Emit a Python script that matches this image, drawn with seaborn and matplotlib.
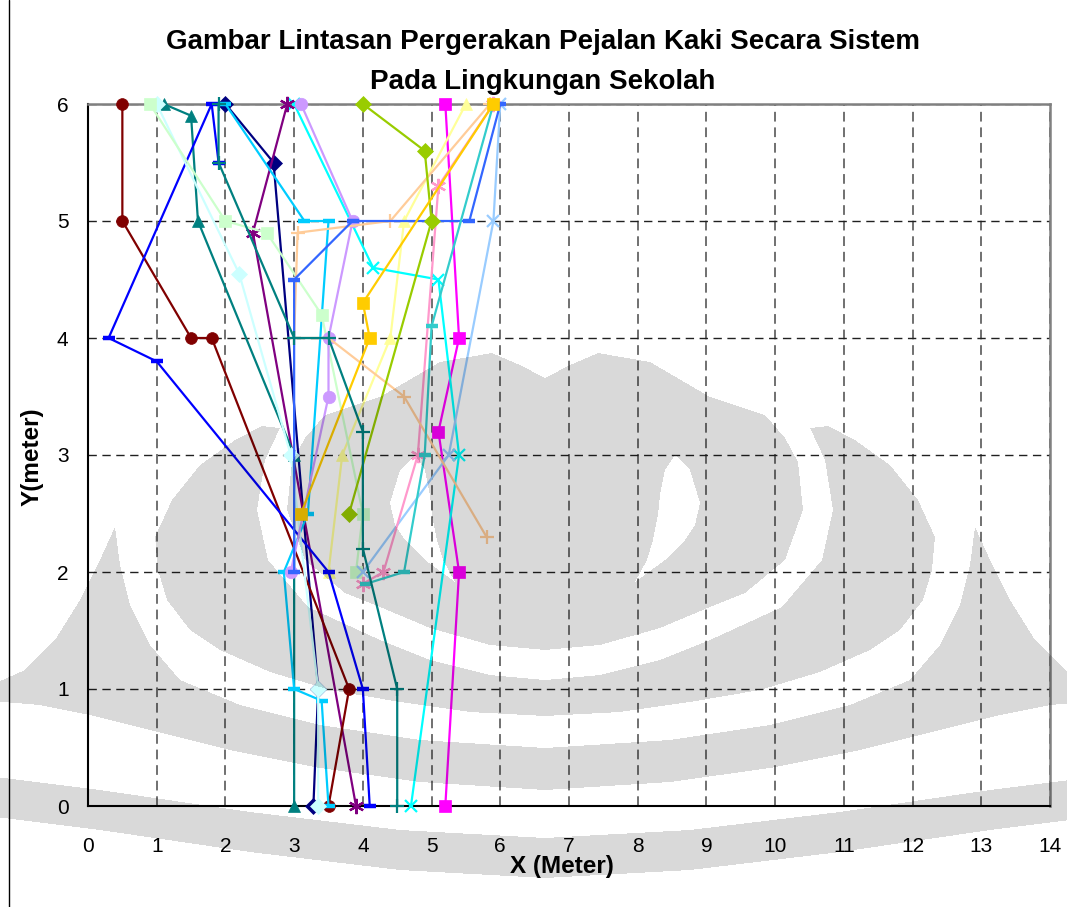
import matplotlib
matplotlib.use("Agg")
import matplotlib.pyplot as plt
from matplotlib.path import Path
from matplotlib.lines import Line2D
import numpy as np
import seaborn as sns
import pandas as pd

sns.set_theme(style="white")
plt.rcParams['font.family'] = ['Liberation Sans', 'DejaVu Sans']
plt.rcParams['text.color'] = 'black'
plt.rcParams['xtick.color'] = 'black'
plt.rcParams['ytick.color'] = 'black'

# Pedestrian paths (x, y in metres), one pair of lists per walker
navy_x = [2.0, 2.7, 3.35, 3.28]
navy_y = [6.0, 5.5, 1.0, 0.0]
magenta_x = [5.2, 5.4, 5.1, 5.4, 5.2]
magenta_y = [6.0, 4.0, 3.2, 2.0, 0.0]
lightyellow_x = [5.5, 4.6, 4.4, 3.7, 3.5]
lightyellow_y = [6.0, 5.0, 4.0, 3.0, 2.0]
cyan_x = [3.0, 4.15, 5.1, 5.4, 4.7]
cyan_y = [6.0, 4.6, 4.5, 3.0, 0.0]
purple_x = [2.9, 2.4, 3.9]
purple_y = [6.0, 4.9, 0.0]
darkred_x = [0.5, 0.5, 1.5, 1.8, 3.8, 3.5]
darkred_y = [6.0, 5.0, 4.0, 4.0, 1.0, 0.0]
teal_tri_x = [1.1, 1.5, 1.6, 3.0, 3.0]
teal_tri_y = [6.0, 5.9, 5.0, 3.0, 0.0]
blue_x = [1.9, 1.8, 0.3, 1.0, 3.5, 4.0, 4.1]
blue_y = [5.5, 6.0, 4.0, 3.8, 2.0, 1.0, 0.0]
skyblue_x = [2.0, 3.15, 3.5, 3.2, 2.85, 3.0, 3.4, 3.5]
skyblue_y = [6.0, 5.0, 5.0, 2.5, 2.0, 1.0, 0.9, 0.0]
paleturq_x = [1.0, 2.2, 2.95, 3.35, 3.35]
paleturq_y = [6.0, 4.55, 3.0, 1.0, 0.0]
lightgreen_x = [0.9, 2.0, 2.6, 3.4, 4.0, 3.9]
lightgreen_y = [6.0, 5.0, 4.9, 4.2, 2.5, 2.0]
paleblue_x = [6.0, 5.9, 5.25, 4.0]
paleblue_y = [6.0, 5.0, 3.0, 2.0]
rose_x = [5.9, 5.1, 4.8, 4.3, 4.0]
rose_y = [6.0, 5.3, 3.0, 2.0, 1.9]
lavender_x = [3.1, 3.85, 3.5, 3.5, 2.95]
lavender_y = [6.0, 5.0, 4.0, 3.5, 2.0]
tan_x = [5.85, 4.4, 3.05, 3.0, 3.5, 4.6, 5.8]
tan_y = [6.0, 5.0, 4.9, 4.0, 4.0, 3.5, 2.3]
royal_x = [6.0, 5.55, 3.85, 3.0, 3.0]
royal_y = [6.0, 5.0, 5.0, 4.5, 2.0]
aqua_x = [5.9, 5.0, 4.9, 4.6, 4.05]
aqua_y = [6.0, 4.1, 3.0, 2.0, 1.9]
lime_x = [4.0, 4.9, 5.0, 3.8]
lime_y = [6.0, 5.6, 5.0, 2.5]
gold_x = [5.9, 4.0, 4.1, 3.1]
gold_y = [6.0, 4.3, 4.0, 2.5]
teal_plus_x = [1.9, 1.9, 3.0, 3.5, 4.0, 4.0, 4.5, 4.5]
teal_plus_y = [6.0, 5.5, 4.0, 4.0, 3.2, 2.2, 1.0, 0.0]

x_ticks = list(range(0, 15))
y_ticks = list(range(0, 7))

title_lines = ["Gambar Lintasan Pergerakan Pejalan Kaki Secara Sistem",
               "Pada Lingkungan Sekolah"]

series = [
    (navy_x, navy_y, "#000080", "D", 8),
    (magenta_x, magenta_y, "#FF00FF", "s", 8),
    (lightyellow_x, lightyellow_y, "#FFFF99", "^", 9),
    (cyan_x, cyan_y, "#00FFFF", "x", 9),
    (purple_x, purple_y, "#800080", (6, 2, 0), 11),
    (darkred_x, darkred_y, "#800000", "o", 8.5),
    (teal_tri_x, teal_tri_y, "#008080", "^", 9),
    (blue_x, blue_y, "#0000FF", "_", 8),
    (skyblue_x, skyblue_y, "#00CCFF", "_", 8),
    (paleturq_x, paleturq_y, "#CCFFFF", "D", 8),
    (lightgreen_x, lightgreen_y, "#CCFFCC", "s", 9),
    (paleblue_x, paleblue_y, "#99CCFF", "x", 9),
    (rose_x, rose_y, "#FF99CC", (6, 2, 0), 11),
    (lavender_x, lavender_y, "#CC99FF", "o", 9),
    (tan_x, tan_y, "#FFCC99", "+", 10),
    (royal_x, royal_y, "#3366FF", "_", 8),
    (aqua_x, aqua_y, "#33CCCC", "_", 8),
    (lime_x, lime_y, "#99CC00", "D", 8),
    (gold_x, gold_y, "#FFCC00", "s", 9),
    (teal_plus_x, teal_plus_y, "#008080", "+", 10),
]

W, H = 1067, 907
fig = plt.figure(figsize=(W / 100, H / 100), dpi=100)
ax = fig.add_axes([88 / W, 1 - 806 / H, 962 / W, 702 / H])

for xs, ys, color, marker, ms in series:
    df = pd.DataFrame({"x": xs, "y": ys})
    unfilled = marker in ("x", "+", "_") or isinstance(marker, tuple)
    mew = 3.2 if marker == "_" else (1.6 if unfilled else 0.5)
    sns.lineplot(data=df, x="x", y="y", sort=False, estimator=None, ax=ax,
                 color=color, linewidth=1.6, marker=marker, markersize=ms,
                 markeredgecolor=color, markeredgewidth=mew,
                 markerfacecolor=color, clip_on=False, zorder=3)

ax.set_xlim(0, 14)
ax.set_ylim(0, 6)
ax.set_xticks(x_ticks)
ax.set_yticks(y_ticks)
ax.set_xticklabels([str(t) for t in x_ticks], fontsize=15)
ax.set_yticklabels([str(t) for t in y_ticks], fontsize=15)
ax.tick_params(axis="both", direction="out", length=6, width=1.2,
               color="black")
ax.tick_params(axis="x", pad=16)
ax.tick_params(axis="y", pad=8)
ax.xaxis.grid(True, color="#707070", linestyle=(0, (5, 3)), linewidth=1.4)
ax.yaxis.grid(True, color="#202020", linestyle=(0, (6, 4)), linewidth=1.0)
ax.set_axisbelow(True)
for side in ("left", "bottom"):
    ax.spines[side].set_color("black")
    ax.spines[side].set_linewidth(1.5)
for side in ("top", "right"):
    ax.spines[side].set_color("#808080")
    ax.spines[side].set_linewidth(1.8)
ax.set_xlabel("")
ax.set_ylabel("")

fig.text(543 / W, 1 - 42 / H, title_lines[0], ha="center", va="center",
         fontsize=20, fontweight="bold")
fig.text(543 / W, 1 - 82 / H, title_lines[1], ha="center", va="center",
         fontsize=20, fontweight="bold")
fig.text(562 / W, 1 - 866 / H, "X (Meter)", ha="center", va="center",
         fontsize=17.5, fontweight="bold")
fig.text(32 / W, 1 - 457 / H, "Y(meter)", ha="center", va="center",
         fontsize=17.5, fontweight="bold", rotation=90)

# chart-area border on the left edge
fig.add_artist(Line2D([8.5 / W, 8.5 / W], [0, 1], color="black",
                      linewidth=1.0, transform=fig.transFigure))

# --- faint emblem printed over the page (symmetric about a vertical axis) ---
CX = 545


def mirror(pts):
    return [(2 * CX - x, y) for x, y in pts]


def u_band(outer, inner):
    return (outer + mirror(outer)[::-1][1:] + mirror(inner)
            + inner[::-1][1:])


head_left = [(545, 378), (520, 365), (492, 353), (440, 362), (380, 397),
             (325, 415), (305, 438), (292, 462), (287, 510), (305, 560),
             (345, 593), (380, 607), (430, 628), (490, 645), (545, 650)]
head = head_left + mirror(head_left)[::-1][1:-1]
eye_left = [(415, 455), (400, 470), (390, 503), (395, 525), (405, 540),
            (425, 560), (455, 582), (443, 560), (437, 540), (432, 515),
            (430, 495), (425, 470)]
ring_outer = [(262, 426), (235, 440), (200, 465), (172, 500), (155, 537),
              (158, 570), (167, 600), (190, 630), (220, 650), (270, 672),
              (330, 690), (400, 702), (470, 712), (545, 716)]
ring_inner = [(280, 428), (265, 460), (257, 510), (268, 560), (308, 607),
              (380, 640), (430, 660), (490, 675), (545, 680)]
horn_outer = [(-20, 690), (25, 670), (55, 640), (80, 600), (100, 560),
              (115, 527)]
horn_upper = [(115, 527), (120, 565), (130, 605), (150, 645), (180, 680),
              (240, 705), (320, 725), (420, 740), (545, 748)]
horn_lower = [(-20, 700), (40, 705), (90, 715), (150, 730), (230, 750),
              (320, 768), (420, 782), (545, 790)]
tusk = (horn_outer + horn_upper[1:] + mirror(horn_upper)[::-1][1:]
        + mirror(horn_outer)[::-1][1:] + mirror(horn_lower)
        + horn_lower[::-1][1:])
wave_upper = [(-20, 775), (100, 790), (250, 812), (400, 830), (545, 838)]
wave_lower = [(-20, 815), (100, 830), (250, 852), (400, 870), (545, 878)]

yy, xx = np.mgrid[0:H, 0:W]
pix = np.column_stack([xx.ravel() + 0.5, yy.ravel() + 0.5])


def inside(poly):
    return Path(poly).contains_points(pix).reshape(H, W)


emblem = ((inside(head) & ~inside(eye_left) & ~inside(mirror(eye_left)))
          | inside(u_band(ring_outer, ring_inner))
          | inside(tusk)
          | inside(u_band(wave_upper, wave_lower)))
overlay = np.zeros((H, W, 4))
overlay[..., 3] = emblem * 0.15
wm = fig.add_axes([0, 0, 1, 1], zorder=5)
wm.imshow(overlay, extent=(0, W, H, 0), interpolation="antialiased",
          aspect="auto")
wm.set_xlim(0, W)
wm.set_ylim(H, 0)
wm.set_axis_off()

fig.savefig("out.png", dpi=100)
